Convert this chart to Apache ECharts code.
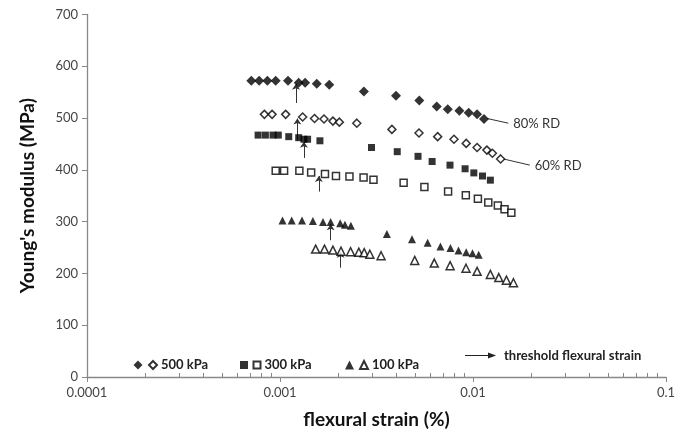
<!DOCTYPE html>
<html><head><meta charset="utf-8">
<script src="https://cdn.jsdelivr.net/npm/echarts@6/dist/echarts.min.js"></script>
<style>html,body{margin:0;padding:0;background:#fff}#c{width:687px;height:436px}</style>
</head><body><div id="c"></div>
<script>
// ---- axis ticks ----
const xTickValues = [0.0001, 0.001, 0.01, 0.1];
const xTickLabels = ['0.0001', '0.001', '0.01', '0.1'];
const xMinorTicks = [0.0002,0.0003,0.0004,0.0005,0.0006,0.0007,0.0008,0.0009,
                     0.002,0.003,0.004,0.005,0.006,0.007,0.008,0.009,
                     0.02,0.03,0.04,0.05,0.06,0.07,0.08,0.09];

// ---- series data ----
const kpa500rd80X = [0.00071,0.00078,0.00086,0.00095,0.0011,0.00125,0.00135,0.00155,0.0018,0.00272,0.00399,0.00527,0.00649,0.0074,0.0085,0.0095,0.0105,0.0114];
const kpa500rd80Y = [572,572,572,572,572,568,568,566,564,551,543,534,522,517,514,510,507,498];
const kpa500rd60X = [0.00083,0.00091,0.00107,0.00131,0.00151,0.00169,0.00188,0.00203,0.0025,0.0038,0.00525,0.00656,0.00797,0.00922,0.0105,0.0118,0.0126,0.0139];
const kpa500rd60Y = [507,507,507,502,499,498,494,492,490,478,471,464,459,451,443,438,432,421];
const kpa300rd80X = [0.00077,0.00084,0.00092,0.00098,0.00111,0.00125,0.00133,0.00139,0.00161,0.00298,0.00405,0.00519,0.00614,0.0076,0.0091,0.0101,0.0112,0.0123];
const kpa300rd80Y = [467,467,467,467,464,462,459,459,456,443,435,426,416,409,402,394,388,380];
const kpa300rd60X = [0.00095,0.00105,0.00126,0.00145,0.00171,0.00195,0.00229,0.00271,0.00305,0.00437,0.0056,0.00743,0.00918,0.0106,0.012,0.01345,0.01457,0.0158];
const kpa300rd60Y = [398,398,398,395,392,388,387,385,381,375,367,358,351,344,337,331,324,317];
const kpa100rd80X = [0.00103,0.00115,0.0013,0.00148,0.00167,0.00183,0.00205,0.00217,0.00233,0.00358,0.00483,0.00582,0.00678,0.00764,0.00841,0.00922,0.00994,0.0107];
const kpa100rd80Y = [302,302,302,301,299,299,297,294,292,276,266,259,252,249,244,241,239,236];
const kpa100rd60X = [0.00153,0.0017,0.00188,0.00207,0.00232,0.00256,0.00273,0.00292,0.00334,0.00499,0.0063,0.00761,0.0092,0.0105,0.0123,0.0136,0.0149,0.0162];
const kpa100rd60Y = [247,247,245,243,242,241,240,237,234,225,220,215,210,204,198,192,187,182];

// threshold flexural strain arrows
const thresholdX     = [0.00121,0.00123,0.00133,0.00159,0.00183,0.00206];
const thresholdFromY = [529,457,423,358,264,211];
const thresholdToY   = [566,499,454,388,295,242];

// density annotations
const rdLabels = ['80% RD','60% RD'];
const rdFromX = [0.01185,0.01435];
const rdFromY = [499,421];
const rdToX   = [0.01524,0.0197];
const rdToY   = [490,409];

const seriesNames = ['500 kPa 80% RD','500 kPa 60% RD','300 kPa 80% RD','300 kPa 60% RD','100 kPa 80% RD','100 kPa 60% RD'];
const legendText  = ['', '500 kPa', '', '300 kPa', '', '100 kPa'];

const FONT = 'Lato, "Open Sans", sans-serif';
const zip = (xs, ys) => xs.map((x, i) => [x, ys[i]]);

function scatter(name, xs, ys, symbol, size, filled) {
  return {
    name, type: 'scatter', data: zip(xs, ys), symbol, symbolSize: size,
    itemStyle: filled ? {color:'#000', borderColor:'#000', borderWidth:0}
                      : {color:'#fff', borderColor:'#000', borderWidth:1.5},
    emphasis: {disabled: true}, z: 3
  };
}

const chart = echarts.init(document.getElementById('c'), null, {renderer:'canvas'});

const legendCenterX = [138, 152, 244, 256, 349.5, 363];
const legendSize = [9, 8, 8, 7, 9, 8];
const legendCenterY = 365;
const legends = seriesNames.map((n, i) => {
  const s = legendSize[i];
  const hasText = legendText[i] !== '';
  return {
    data: [n], left: legendCenterX[i] - s / 2,
    top: hasText ? legendCenterY - 8 : legendCenterY - s / 2,
    padding: 0, itemWidth: s, itemHeight: s, selectedMode: false,
    formatter: () => legendText[i],
    textStyle: {fontFamily: FONT, fontWeight: 'bold', fontSize: 13, color: '#222', lineHeight: 16, padding:[0,0,0,-1]}
  };
});

chart.setOption({
  animation: false,
  backgroundColor: '#fff',
  grid: {left: 87, right: 21, top: 14.4, bottom: 59, containLabel: false},
  legend: legends,
  xAxis: [{
    type: 'log', logBase: 10, min: 0.0001, max: 0.1,
    name: 'flexural strain (%)', nameLocation: 'middle', nameGap: 33,
    nameTextStyle: {fontFamily: FONT, fontWeight: 'bold', fontSize: 19, color: '#111'},
    axisLine: {show: true, onZero: false, lineStyle: {color: '#888', width: 1.3}},
    axisTick: {show: true, inside: false, length: 5, lineStyle: {color: '#888'}, customValues: xTickValues},
    axisLabel: {fontFamily: FONT, fontSize: 13, color: '#444', margin: 9, customValues: xTickValues,
      formatter: (v) => { let best = 0; xTickValues.forEach((t, i) => { if (Math.abs(Math.log10(t) - Math.log10(v)) < Math.abs(Math.log10(xTickValues[best]) - Math.log10(v))) best = i; }); return xTickLabels[best]; }},
    splitLine: {show: false}, minorTick: {show: false}
  }, {
    type: 'log', logBase: 10, min: 0.0001, max: 0.1, position: 'bottom', gridIndex: 0,
    axisLine: {show: false},
    axisTick: {show: true, inside: true, length: 4, lineStyle: {color: '#888'}, customValues: xMinorTicks},
    axisLabel: {show: false}, splitLine: {show: false}
  }],
  yAxis: {
    type: 'value', min: 0, max: 700, interval: 100,
    name: "Young's modulus (MPa)", nameLocation: 'middle', nameGap: 50,
    nameTextStyle: {fontFamily: FONT, fontWeight: 'bold', fontSize: 19, color: '#111'},
    axisLine: {show: true, lineStyle: {color: '#888', width: 1.3}},
    axisTick: {show: true, inside: false, length: 5, lineStyle: {color: '#888'}},
    axisLabel: {fontFamily: FONT, fontSize: 13, color: '#444', margin: 9},
    splitLine: {show: false}
  },
  series: [
    scatter(seriesNames[0], kpa500rd80X, kpa500rd80Y, 'diamond', 10, true),
    scatter(seriesNames[1], kpa500rd60X, kpa500rd60Y, 'diamond', 8, false),
    scatter(seriesNames[2], kpa300rd80X, kpa300rd80Y, 'rect', 7, true),
    scatter(seriesNames[3], kpa300rd60X, kpa300rd60Y, 'rect', 7, false),
    scatter(seriesNames[4], kpa100rd80X, kpa100rd80Y, 'triangle', 8, true),
    scatter(seriesNames[5], kpa100rd60X, kpa100rd60Y, 'triangle', 8, false),
    {
      name: 'threshold', type: 'lines', coordinateSystem: 'cartesian2d', xAxisIndex: 0, yAxisIndex: 0,
      symbol: ['none', 'arrow'], symbolSize: [0, 6], silent: true, z: 2,
      lineStyle: {color: '#333', width: 1, opacity: 1, curveness: 0},
      data: thresholdX.map((x, i) => ({coords: [[x, thresholdFromY[i]], [x, thresholdToY[i]]]}))
    },
    {
      name: 'rd', type: 'lines', coordinateSystem: 'cartesian2d', xAxisIndex: 0, yAxisIndex: 0,
      symbol: ['none', 'none'], silent: true, z: 2,
      lineStyle: {color: '#333', width: 1, opacity: 1, curveness: 0},
      label: {show: true, position: 'end', distance: 5, formatter: '{b}', fontFamily: FONT, fontSize: 13, color: '#333'},
      data: rdLabels.map((n, i) => ({name: n, coords: [[rdFromX[i], rdFromY[i]], [rdToX[i], rdToY[i]]]}))
    }
  ],
  graphic: [
    {type: 'line', shape: {x1: 465, y1: 355.5, x2: 494, y2: 355.5}, style: {stroke: '#222', lineWidth: 1}},
    {type: 'polygon', shape: {points: [[488, 352.5], [496, 355.5], [488, 358.5]]}, style: {fill: '#222'}},
    {type: 'text', x: 504, y: 355.5, style: {text: 'threshold flexural strain', fontFamily: FONT, fontWeight: 'bold', fontSize: 13, fill: '#222', verticalAlign: 'middle'}}
  ]
});
</script>
</body></html>
